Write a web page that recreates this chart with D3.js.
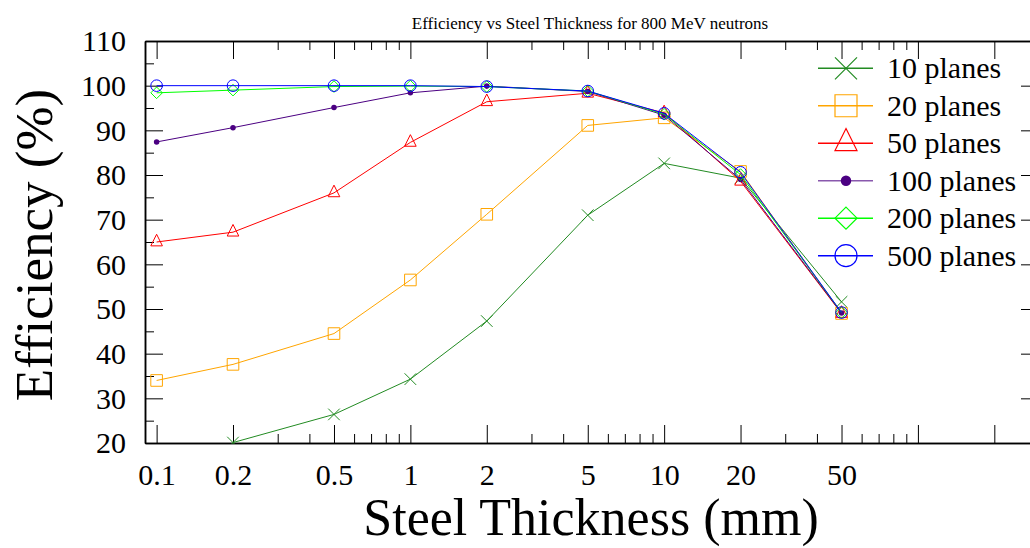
<!DOCTYPE html>
<html>
<head>
<meta charset="utf-8">
<script src="https://cdn.jsdelivr.net/npm/d3@7"></script>
<style>
  body { margin: 0; background: #fff; }
  svg { display: block; font-family: "Liberation Serif", "Times New Roman", serif; }
</style>
</head>
<body>
<svg width="1030" height="548"></svg>
<script>
var thickness = [0.1, 0.2, 0.5, 1, 2, 5, 10, 20, 50];
var planes10 = [null, 20.1, 26.4, 34.3, 47.3, 71.0, 82.6, 79.3, 51.6];
var planes20 = [34.0, 37.6, 44.5, 56.5, 71.2, 91.1, 92.8, 80.8, 49.0];
var planes50 = [65.0, 67.2, 76.0, 87.3, 96.4, 98.3, 93.9, 78.6, 49.0];
var planes100 = [87.4, 90.6, 95.1, 98.4, 99.9, 98.7, 93.4, 79.0, 49.1];
var planes200 = [98.4, 99.0, 99.8, 99.9, 99.8, 98.8, 93.6, 80.1, 49.2];
var planes500 = [100.0, 100.0, 100.0, 100.0, 99.8, 98.8, 93.8, 80.6, 49.2];
var seriesNames = ['10 planes', '20 planes', '50 planes', '100 planes', '200 planes', '500 planes'];
var xTickLabels = [0.1, 0.2, 0.5, 1, 2, 5, 10, 20, 50];
var yTickLabels = [20, 30, 40, 50, 60, 70, 80, 90, 100, 110];

var series = [
    { name: seriesNames[0], values: planes10, color: '#228B22', marker: 'x' },
    { name: seriesNames[1], values: planes20, color: '#FFA500', marker: 'square' },
    { name: seriesNames[2], values: planes50, color: '#FF0000', marker: 'triangle' },
    { name: seriesNames[3], values: planes100, color: '#4B0082', marker: 'dot' },
    { name: seriesNames[4], values: planes200, color: '#00FF00', marker: 'diamond' },
    { name: seriesNames[5], values: planes500, color: '#0000FF', marker: 'circle' }
];

var svg = d3.select('svg'),
    margin = { top: 41, right: -9, bottom: 105, left: 145 },
    width = 1030 - margin.left - margin.right,
    height = 548 - margin.top - margin.bottom;

var x = d3.scaleLog().domain([0.09, 300]).range([0, width]);
var y = d3.scaleLinear().domain([20, 110]).range([height, 0]);

var g = svg.append('g').attr('transform', `translate(${margin.left},${margin.top})`);

// ticks: 1,2,5 per decade are long, the rest short
var majorX = [], minorX = [];
[0.1, 1, 10, 100].forEach(dec => {
    for (var k = 1; k <= 9; k++) {
        var v = +(dec * k).toPrecision(3);
        if (v < x.domain()[0] || v > x.domain()[1]) continue;
        if (k == 1 || k == 2 || k == 5) majorX.push(v); else minorX.push(v);
    }
});
var minorY = d3.range(25, 110, 10);

function axisLine(gen, vals, size) {
    return gen.tickValues(vals).tickSize(size).tickSizeOuter(0).tickFormat('');
}

// minor ticks
g.append('g').attr('transform', `translate(0,${height})`).call(axisLine(d3.axisBottom(x), minorX, -9));
g.append('g').call(axisLine(d3.axisTop(x), minorX, -9));
g.append('g').call(axisLine(d3.axisLeft(y), minorY, -9));
g.append('g').attr('transform', `translate(${width},0)`).call(axisLine(d3.axisRight(y), minorY, -9));

// major ticks
var xBottom = g.append('g').attr('class', 'x axis').attr('transform', `translate(0,${height})`)
    .call(d3.axisBottom(x).tickValues(majorX).tickSize(-18).tickSizeOuter(0)
        .tickFormat(d => xTickLabels.includes(d) ? d : ''));
g.append('g').call(axisLine(d3.axisTop(x), majorX, -18));
var yLeft = g.append('g').attr('class', 'y axis')
    .call(d3.axisLeft(y).tickValues(yTickLabels).tickSize(-18).tickSizeOuter(0).tickFormat(d => d));
g.append('g').attr('transform', `translate(${width},0)`).call(axisLine(d3.axisRight(y), yTickLabels, -18));

g.selectAll('.tick line').attr('stroke', '#000').attr('stroke-width', 1);
g.selectAll('.domain').attr('stroke', '#000').attr('stroke-width', 1.5);

xBottom.selectAll('text')
    .attr('font-family', 'Liberation Serif').attr('font-size', 30).attr('fill', '#000')
    .attr('y', 42).attr('dy', 0);
yLeft.selectAll('text')
    .attr('font-family', 'Liberation Serif').attr('font-size', 30).attr('fill', '#000')
    .attr('x', -19).attr('dy', '0.33em');

// marker paths centred on 0,0; h = half size
function markerPath(type, h) {
    var p = d3.path();
    if (type == 'x') {
        p.moveTo(-h, -h); p.lineTo(h, h); p.moveTo(-h, h); p.lineTo(h, -h);
    } else if (type == 'square') {
        p.rect(-h, -h, 2 * h, 2 * h);
    } else if (type == 'triangle') {
        var H = 2 * h;
        p.moveTo(0, -H * 2 / 3); p.lineTo(h, H / 3); p.lineTo(-h, H / 3); p.closePath();
    } else if (type == 'diamond') {
        p.moveTo(0, -h); p.lineTo(h, 0); p.lineTo(0, h); p.lineTo(-h, 0); p.closePath();
    } else if (type == 'circle') {
        p.arc(0, 0, h, 0, 2 * Math.PI);
    } else if (type == 'dot') {
        p.arc(0, 0, h / 2.1, 0, 2 * Math.PI);
    }
    return p.toString();
}

svg.append('clipPath').attr('id', 'plot-clip')
    .append('rect').attr('x', 0).attr('y', 0).attr('width', width).attr('height', height + 1);

var plot = g.append('g').attr('clip-path', 'url(#plot-clip)');

var line = d3.line()
    .defined(d => d[1] != null)
    .x(d => x(d[0]))
    .y(d => y(d[1]));

series.forEach(s => {
    var pts = thickness.map((t, i) => [t, s.values[i]]);
    plot.append('path')
        .datum(pts)
        .attr('fill', 'none')
        .attr('stroke', s.color)
        .attr('stroke-width', 1)
        .attr('d', line);
    plot.selectAll(null)
        .data(pts.filter(d => d[1] != null))
        .enter().append('path')
        .attr('transform', d => `translate(${x(d[0])},${y(d[1])})`)
        .attr('d', markerPath(s.marker, 5.8))
        .attr('fill', s.marker == 'dot' ? s.color : 'none')
        .attr('stroke', s.marker == 'dot' ? 'none' : s.color)
        .attr('stroke-width', 1);
});

// legend
var legend = svg.append('g').attr('transform', 'translate(818,68.3)');
series.forEach((s, i) => {
    var row = legend.append('g').attr('transform', `translate(0,${i * 37.47})`);
    row.append('line').attr('x1', 0).attr('x2', 55).attr('y1', 0).attr('y2', 0)
        .attr('stroke', s.color).attr('stroke-width', 1.5).attr('opacity', s.marker == 'dot' ? 0.65 : 1);
    row.append('path')
        .attr('transform', 'translate(28,0)')
        .attr('d', markerPath(s.marker, 11))
        .attr('fill', s.marker == 'dot' ? s.color : 'none')
        .attr('stroke', s.marker == 'dot' ? 'none' : s.color)
        .attr('stroke-width', 1.2);
    row.append('text')
        .attr('x', 69).attr('dy', '0.33em')
        .attr('font-size', 30).attr('fill', '#000')
        .text(s.name);
});

// titles
svg.append('text')
    .attr('x', 590).attr('y', 29)
    .attr('text-anchor', 'middle').attr('font-size', 17)
    .text('Efficiency vs Steel Thickness for 800 MeV neutrons');

svg.append('text')
    .attr('x', 591).attr('y', 535)
    .attr('text-anchor', 'middle').attr('font-size', 52)
    .text('Steel Thickness (mm)');

svg.append('text')
    .attr('transform', 'translate(52,245) rotate(-90)')
    .attr('text-anchor', 'middle').attr('font-size', 53)
    .text('Efficiency (%)');
</script>
</body>
</html>
